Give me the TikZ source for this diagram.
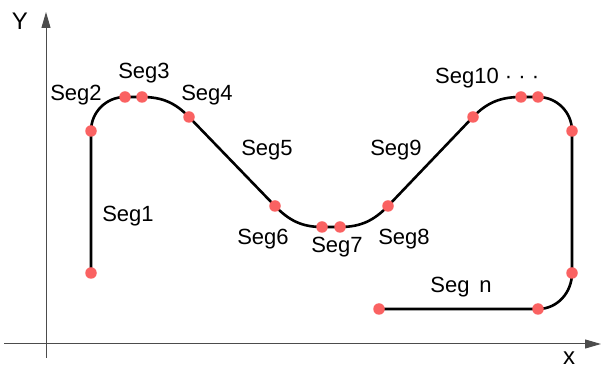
\documentclass[tikz,border=0pt]{standalone}
\usepackage{fontspec}
\setmainfont{Liberation Sans}
\usetikzlibrary{arrows.meta}

\begin{document}
\begin{tikzpicture}[x=1pt,y=1pt,
    axis/.style={draw=black!70, line width=1pt, -{Triangle[length=16pt,width=9pt]}},
    curve/.style={draw=black, line width=2.6pt},
    dot/.style={circle, fill={rgb,255:red,250;green,98;blue,98}, inner sep=0pt, minimum size=11.5pt},
    seg/.style={inner sep=0pt, font=\fontsize{22}{26}\selectfont},
    lbl/.style={inner sep=0pt, font=\fontsize{24}{28}\selectfont}]

    \useasboundingbox (0,0) rectangle (608,369);

    % axes
    \coordinate (o_y) at (46,11);
    \coordinate (t_y) at (46,357);
    \coordinate (o_x) at (4,25);
    \coordinate (t_x) at (601,25);
    \draw[axis] (o_y) -- (t_y);
    \draw[axis] (o_x) -- (t_x);
    \node[lbl] (l_y) at (20,348) {Y};
    \node[lbl] (l_x) at (569,11) {x};

    % segment end points
    \coordinate (p_1) at (91,96);
    \coordinate (p_2) at (91,238);
    \coordinate (p_3) at (125,272);
    \coordinate (p_4) at (142,272);
    \coordinate (p_5) at (189,252);
    \coordinate (p_6) at (275,163);
    \coordinate (p_7) at (322,142);
    \coordinate (p_8) at (340,142);
    \coordinate (p_9) at (388,163);
    \coordinate (p_10) at (473,252);
    \coordinate (p_11) at (521,272);
    \coordinate (p_12) at (538,272);
    \coordinate (p_13) at (572,238);
    \coordinate (p_14) at (572,96);
    \coordinate (p_15) at (538,60);
    \coordinate (p_16) at (379,60);

    % the contour
    \draw[curve]
    (p_1) -- (p_2)
          to [out=90, in=180] (p_3)
          -- (p_4)
          to [out=0, in=134] (p_5)
          -- (p_6)
          to [out=-46, in=180] (p_7)
          -- (p_8)
          to [out=0, in=-134] (p_9)
          -- (p_10)
          to [out=46, in=180] (p_11)
          -- (p_12)
          to [out=0, in=90] (p_13)
          -- (p_14)
          to [out=-90, in=0] (p_15)
          -- (p_16);

    \path
    (p_1) node[dot] {}  (p_2) node[dot] {}  (p_3) node[dot] {}
    (p_4) node[dot] {}  (p_5) node[dot] {}  (p_6) node[dot] {}
    (p_7) node[dot] {}  (p_8) node[dot] {}  (p_9) node[dot] {}
    (p_10) node[dot] {} (p_11) node[dot] {} (p_12) node[dot] {}
    (p_13) node[dot] {} (p_14) node[dot] {} (p_15) node[dot] {}
    (p_16) node[dot] {};

    % labels
    \node[seg] (s_1) at (128,153) {Seg1};
    \node[seg] (s_2) at (76,274) {Seg2};
    \node[seg] (s_3) at (144,296) {Seg3};
    \node[seg] (s_4) at (207,274) {Seg4};
    \node[seg] (s_5) at (267,219) {Seg5};
    \node[seg] (s_6) at (263,130) {Seg6};
    \node[seg] (s_7) at (337,122) {Seg7};
    \node[seg] (s_8) at (404,130) {Seg8};
    \node[seg] (s_9) at (396,219) {Seg9};
    \node[seg, anchor=west] (s_10) at (435,291) {Seg10 · · ·};
    \node[seg] (s_n) at (461,82) {Seg\ \,n};

\end{tikzpicture}
\end{document}
